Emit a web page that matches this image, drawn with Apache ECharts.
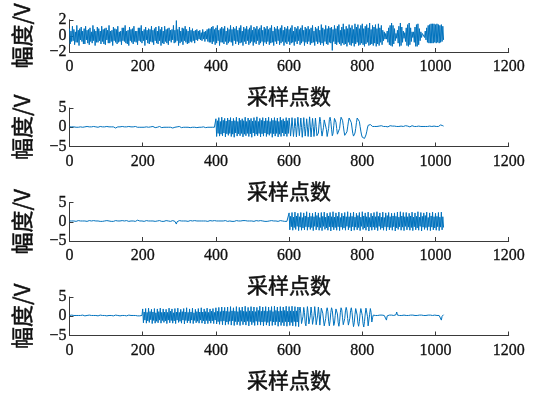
<!DOCTYPE html>
<html>
<head>
<meta charset="utf-8">
<script src="https://cdn.jsdelivr.net/npm/echarts@6/dist/echarts.min.js"></script>
<style>
  html, body { margin: 0; padding: 0; background: #fff; }
  #main { width: 534px; height: 394px; }
</style>
</head>
<body>
<div id="main"></div>
<script>
// one value every 2 samples (0, 2, 4 ... 1022)
const sampleStep = 2;

const signal1 = [
  0.9,-1.0,0.6,-0.7,1.2,-0.6,0.8,-1.1,0.5,-0.8,1.3,-0.8,0.7,-1.2,0.9,-0.5,
  1.1,-0.7,0.6,-1.0,0.9,-1.0,1.2,-0.5,0.7,-0.9,0.8,-1.1,1.0,-0.7,0.5,-0.9,
  1.3,-0.6,0.8,-1.2,0.6,-0.8,1.1,-0.8,0.9,-0.6,0.6,-1.0,1.2,-0.7,0.8,-1.0,
  0.9,-1.1,1.0,-0.5,0.7,-0.9,1.3,-0.9,0.6,-0.7,0.7,-1.2,1.1,-0.6,0.9,-0.8,
  0.8,-1.0,1.2,-0.8,0.5,-0.7,0.6,-1.1,1.0,-0.6,1.0,-0.7,1.3,-0.9,0.6,-1.0,
  0.7,-1.2,1.1,-0.6,0.8,-0.8,0.9,-1.0,1.2,-0.7,0.6,-0.8,0.6,-1.1,1.0,-0.6,
  1.0,-0.7,1.3,-0.9,0.6,-0.6,0.8,-1.2,1.1,-0.5,0.7,-0.9,0.9,-1.0,0.8,-0.7,
  1.2,-0.8,0.7,-1.1,0.9,-0.6,1.1,-0.9,0.6,-1.0,1.2,-0.6,0.8,-1.2,1.1,-0.9,
  0.6,-1.0,1.2,-0.7,0.8,-0.9,0.9,-1.1,1.0,-0.6,0.7,-0.8,0.8,-0.5,1.3,-0.9,
  0.7,-0.8,1.9,-0.6,0.8,-1.2,1.1,-0.9,0.6,-0.7,1.0,-1.1,0.9,-0.6,1.2,-0.8,
  0.8,-1.0,0.6,-0.9,1.1,-0.7,0.7,-0.8,0.9,-0.6,0.6,-0.9,0.7,-0.5,0.8,-0.6,
  0.6,-0.4,0.7,-0.5,0.4,-0.6,0.8,-0.4,0.5,-0.7,0.6,-0.4,0.8,-0.7,0.9,-0.8,
  0.9,-0.8,1.1,-1.0,1.2,-0.7,0.8,-1.1,1.0,-0.9,1.3,-0.6,0.7,-1.2,0.9,-0.8,
  1.1,-0.8,0.9,-1.0,1.2,-0.7,0.6,-1.1,1.0,-0.9,0.8,-0.7,1.3,-0.8,0.8,-1.2,
  1.1,-0.6,0.9,-1.0,1.2,-0.7,0.7,-1.1,1.0,-0.9,1.3,-0.8,0.6,-1.2,1.1,-0.7,
  0.9,-1.0,1.2,-0.6,0.8,-1.1,1.0,-0.9,1.3,-0.7,0.7,-1.2,1.1,-0.8,0.9,-1.0,
  1.2,-0.6,0.8,-1.1,1.0,-0.9,1.3,-0.7,0.7,-1.2,1.1,-0.8,0.9,-1.0,1.2,-0.7,
  0.8,-1.1,1.0,-0.9,1.3,-0.8,0.6,-1.2,1.1,-0.7,0.9,-1.0,1.2,-0.6,0.8,-1.1,
  1.0,-0.9,1.3,-0.7,0.7,-1.2,1.1,-0.8,0.9,-1.0,1.2,-0.7,0.8,-1.1,1.0,-0.9,
  1.3,-0.8,0.6,-1.2,1.1,-0.7,0.9,-1.0,1.2,-0.6,0.8,-1.1,1.0,-0.9,1.3,-0.7,
  0.7,-1.2,1.1,-0.8,0.9,-1.0,1.2,-0.7,0.8,-1.1,1.0,-0.9,1.3,-0.8,0.6,-1.2,
  1.1,-0.7,0.9,-1.0,1.2,-0.8,0.7,-1.1,1.4,-0.9,1.0,-1.2,0.8,-0.7,1.3,-1.0,
  0.9,-1.1,1.2,-0.8,1.0,-0.9,1.1,-1.8,0.8,-0.7,1.3,-1.0,0.9,-1.1,1.2,-0.8,
  1.4,-1.0,0.7,-1.2,1.1,-0.9,1.5,-1.1,0.8,-1.0,1.2,-1.3,0.9,-0.8,1.4,-1.1,
  1.0,-1.2,1.3,-0.9,0.8,-1.3,1.5,-1.0,1.1,-0.8,1.4,-1.2,0.9,-1.1,1.3,-0.9,
  1.5,-1.1,0.9,-1.3,1.2,-1.0,1.4,-0.8,1.0,-1.2,1.6,-1.1,0.8,-1.0,1.3,-1.2,
  1.1,-0.9,1.4,-1.3,0.9,-1.0,1.5,-1.2,1.0,-0.8,1.3,-1.1,0.7,-0.6,0.5,-0.4,
  0.3,-0.4,0.6,-0.8,1.0,-1.1,1.3,-1.2,1.6,-1.3,1.3,-1.0,0.9,-0.6,0.3,-0.3,
  0.7,-0.9,1.2,-1.3,1.6,-1.2,1.1,-0.8,0.6,-0.3,0.4,-0.7,1.0,-1.2,1.4,-1.3,
  1.6,-1.1,1.0,-0.7,0.5,-0.2,0.5,-0.8,1.1,-1.3,1.4,-1.3,1.5,-1.1,0.9,-0.6,
  0.5,-0.2,0.3,0.1,0.5,-0.2,0.6,-0.5,1.0,-0.8,1.3,-0.9,1.4,-0.9,1.5,-0.9,
  1.5,-0.9,1.5,-0.8,1.4,-0.9,1.5,-0.8,1.4,-0.9,1.3,-0.8,1.4,-0.7,1.2,-0.5
];

const signal2 = [
  // 0 - 398
  0.1,0.0,0.2,0.1,0.1,-0.1,0.1,0.2,0.1,0.0,0.1,0.2,0.0,0.1,-0.1,0.1,0.2,0.1,0.0,0.1,
  0.2,0.1,0.0,0.1,0.2,0.1,-0.1,0.1,0.0,0.2,0.1,0.1,0.0,0.2,0.1,0.0,0.1,0.2,0.1,0.0,
  0.1,-0.1,0.2,0.1,0.0,0.1,0.2,0.0,0.1,0.1,0.0,0.2,0.1,-0.1,0.1,0.2,0.0,0.1,0.1,0.0,
  0.1,0.2,0.0,-0.2,-0.5,-0.1,0.1,0.2,0.0,0.1,0.1,-0.1,0.2,0.1,0.0,0.1,0.2,0.0,0.1,0.1,
  0.0,0.2,0.1,-0.1,0.1,0.0,0.2,0.1,0.0,0.1,0.2,-0.1,0.1,0.0,0.1,0.2,0.0,0.1,0.1,0.0,
  0.1,0.2,0.0,0.1,-0.1,0.1,0.2,0.1,0.0,0.1,0.3,0.1,0.0,0.1,0.2,0.0,0.1,-0.1,0.1,0.2,
  0.0,0.1,0.1,0.2,0.0,0.1,-0.1,0.1,0.2,0.0,0.1,0.1,0.0,0.2,0.1,0.0,0.1,0.2,0.0,0.1,
  -0.5,-0.2,0.1,0.1,0.0,0.2,0.4,0.1,0.0,0.1,0.2,0.0,0.1,-0.1,0.1,0.2,0.0,0.1,0.1,0.0,
  0.1,0.2,0.0,0.1,0.1,-0.1,0.2,0.1,0.0,0.1,0.1,0.0,0.2,0.1,-0.1,0.1,0.2,0.0,0.1,0.1,
  0.0,0.1,0.2,0.1,0.0,0.1,-0.1,0.2,0.1,0.0,0.1,0.2,0.0,0.1,0.1,0.0,0.2,0.1,0.0,0.1,
  // 400 - 598
  2.2,-2.4,1.7,-1.6,2.5,-2.3,1.5,-1.8,2.6,-2.2,1.8,-1.5,2.3,-2.5,1.6,-1.7,2.4,-2.1,1.9,-1.6,
  2.5,-2.4,1.6,-1.8,2.3,-2.6,1.7,-1.5,2.6,-2.3,1.5,-1.7,2.4,-2.2,1.8,-1.6,2.2,-2.5,1.7,-1.8,
  2.6,-2.2,1.5,-1.6,2.4,-2.4,1.8,-1.7,2.3,-2.6,1.6,-1.5,2.5,-2.3,1.7,-1.8,2.7,-2.2,1.5,-1.6,
  2.3,-2.5,1.8,-1.7,2.5,-2.3,1.6,-1.5,2.4,-2.4,1.7,-1.8,2.6,-2.1,1.5,-1.6,2.3,-2.6,1.8,-1.7,
  2.5,-2.3,1.7,-1.6,2.4,-2.5,1.5,-1.8,2.6,-2.4,1.8,-1.5,2.2,-2.3,1.6,-1.7,2.5,-2.4,1.7,-1.6,
  // 600 - 678
  2.4,0.3,-2.3,-0.2,2.5,0.1,-2.4,-0.3,2.3,0.2,-2.5,0.0,2.6,0.3,-2.2,-0.1,2.4,0.0,-2.6,-0.2,
  2.5,0.2,-2.3,-0.3,2.2,0.1,-2.4,0.0,2.7,0.3,-2.5,-0.1,2.3,0.2,-2.4,-0.2,2.4,0.2,-2.2,-2.4,
  // 680 - 830
  -1.5,0.8,2.6,1.5,-0.8,-2.3,-1.8,0.0,1.9,2.4,1.5,-0.6,-2.4,-1.9,-0.3,2.0,
  2.6,1.5,-0.5,-2.2,-1.6,0.4,2.3,2.3,1.3,-0.3,-1.8,-2.2,-1.7,-0.3,1.4,2.6,
  2.6,1.8,0.5,-1.0,-2.1,-2.4,-2.1,-1.2,0.1,1.4,2.4,2.6,2.2,1.2,-0.2,-1.6,
  -2.3,-2.3,-1.5,-0.3,1.2,2.4,2.9,2.5,1.5,0.2,-1.0,-2.0,-2.6,-2.8,-2.9,-2.9,
  -2.7,-2.0,-1.2,-0.2,0.5,0.9,1.0,0.7,0.4,0.3,0.2,0.3,
  // 832 - 1022
  0.3,0.2,0.3,0.4,0.2,0.3,0.1,0.3,0.2,0.3,0.4,0.2,0.3,0.2,0.5,0.3,0.2,0.3,0.2,0.1,
  0.3,0.2,0.4,0.3,0.2,0.3,0.2,0.1,0.3,0.2,0.4,0.2,0.3,0.3,0.2,0.4,0.2,0.3,0.1,0.3,
  0.2,0.3,0.2,0.4,0.3,0.2,0.3,0.2,0.3,0.1,0.3,0.2,0.4,0.2,0.3,0.2,0.3,0.5,0.2,0.3,
  0.2,0.3,0.1,0.3,0.2,0.4,0.3,0.2,0.3,0.2,0.2,0.4,0.3,0.2,0.3,0.1,0.3,0.2,0.3,0.2,
  0.4,0.2,0.3,0.2,0.3,0.2,0.1,0.3,0.2,0.4,0.3,0.6,0.3,0.2,0.4,0.3
];

const signal3 = [
  // 0 - 598
  0.2,0.1,0.3,0.2,0.2,0.1,0.2,0.3,0.2,0.1,0.2,0.2,0.3,0.1,0.2,0.2,0.1,0.3,0.2,0.2,
  0.1,0.2,0.3,0.2,0.1,0.2,0.2,0.3,0.1,0.2,0.2,0.1,0.2,0.3,0.2,0.1,0.2,0.2,0.3,0.2,
  0.2,0.3,0.1,0.2,0.2,0.1,0.3,0.2,0.2,0.1,0.2,0.3,0.2,0.1,0.2,0.2,0.3,0.1,0.2,0.2,
  0.1,0.2,0.2,0.3,0.2,0.1,0.2,0.3,0.2,0.2,0.1,0.2,0.3,0.2,0.1,0.2,0.2,0.1,0.3,0.2,
  0.2,0.1,0.2,0.3,0.2,0.2,0.1,0.2,0.3,0.2,0.1,0.2,0.3,0.4,0.7,0.3,0.2,0.1,0.2,0.2,
  0.3,0.2,0.1,0.2,0.2,0.3,0.1,0.2,0.2,0.1,0.3,0.2,0.2,0.1,0.2,0.3,0.2,0.1,0.2,0.2,
  0.2,0.1,0.2,0.3,0.2,0.2,0.1,0.2,0.3,0.1,0.2,0.2,0.3,0.2,0.1,0.2,0.2,0.3,0.1,0.2,
  0.2,0.3,0.1,0.2,0.1,-0.1,-0.6,0.0,0.2,0.2,0.3,0.1,0.2,0.2,0.1,0.3,0.2,0.2,0.1,0.2,
  0.3,0.2,0.1,0.2,0.2,0.3,0.1,0.2,0.2,0.1,0.2,0.3,0.2,0.1,0.2,0.2,0.3,0.2,0.1,0.2,
  0.2,0.1,0.3,0.2,0.2,0.1,0.2,0.3,0.2,0.1,0.2,0.2,0.3,0.1,0.2,0.2,0.1,0.2,0.3,0.2,
  0.1,0.2,0.2,0.3,0.2,0.1,0.2,0.2,0.3,0.1,0.2,0.2,0.1,0.3,0.2,0.2,0.1,0.2,0.3,0.2,
  0.2,0.2,0.1,0.3,0.2,0.1,0.2,0.2,0.3,0.2,0.1,0.2,0.3,0.2,0.2,0.1,0.2,0.3,0.1,0.2,
  0.3,0.1,0.2,0.2,0.1,0.3,0.2,0.2,0.1,0.2,0.3,0.2,0.1,0.2,0.2,0.3,0.1,0.2,0.2,0.1,
  0.2,0.3,0.2,0.1,0.2,0.2,0.3,0.1,0.2,0.2,0.1,0.3,0.2,0.2,0.1,0.2,0.3,0.2,0.1,0.2,
  0.2,0.1,0.2,0.3,0.2,0.1,0.2,0.2,0.3,0.2,0.1,0.2,0.2,0.3,0.1,0.2,0.2,0.1,0.3,0.2,
  // 600 - 1022
  2.3,-2.1,1.4,-1.3,2.4,-2.2,1.2,-1.5,2.5,-2.0,1.5,-1.2,2.2,-2.3,1.3,-1.4,
  2.4,-2.2,1.1,-1.6,2.3,-2.1,1.5,-1.3,2.6,-2.2,1.2,-1.4,2.3,-2.0,1.4,-1.5,
  2.2,-2.3,1.3,-1.2,2.5,-2.1,1.6,-1.4,2.3,-2.2,1.1,-1.5,2.4,-2.3,1.4,-1.2,
  2.5,-2.0,1.2,-1.6,2.2,-2.2,1.5,-1.3,2.4,-2.4,1.3,-1.4,2.6,-2.1,1.2,-1.5,
  2.3,-2.2,1.4,-1.3,2.5,-2.3,1.1,-1.4,2.2,-2.0,1.5,-1.6,2.4,-2.2,1.3,-1.2,
  2.6,-2.1,1.3,-1.5,2.3,-2.4,1.4,-1.3,2.5,-2.2,1.2,-1.4,2.2,-2.1,1.6,-1.5,
  2.4,-2.3,1.2,-1.2,2.6,-2.0,1.5,-1.6,2.3,-2.2,1.3,-1.3,2.5,-2.4,1.1,-1.4,
  2.2,-2.2,1.5,-1.4,2.4,-2.1,1.3,-1.5,2.6,-2.3,1.4,-1.2,2.3,-2.0,1.2,-1.6,
  2.5,-2.2,1.1,-1.3,2.3,-2.3,1.6,-1.4,2.4,-2.1,1.3,-1.5,2.2,-2.2,1.5,-1.3,
  2.3,-2.4,1.4,-1.6,2.5,-2.0,1.2,-1.3,2.6,-2.2,1.5,-1.4,2.4,-2.3,1.3,-1.2,
  2.4,-2.1,1.3,-1.4,2.2,-2.2,1.5,-1.5,2.5,-2.3,1.2,-1.3,2.3,-2.1,1.4,-1.6,
  2.6,-2.2,1.2,-1.2,2.4,-2.4,1.4,-1.4,2.3,-2.0,1.6,-1.5,2.5,-2.2,1.1,-1.3,
  2.3,-2.3,1.5,-1.4,2.5,-2.1,1.3,-1.6,2.2,-2.2,1.4,-1.3,2.4,-2.3,1.2,-1.4,
  2.5,-2.1,1.3,-1.5
];

const signal4 = [
  // 0 - 198
  0.2,0.1,0.2,0.3,0.1,0.2,0.2,0.1,0.3,0.2,0.1,0.2,0.2,0.3,0.1,0.2,0.1,0.2,0.3,0.2,
  0.2,0.1,0.3,0.2,0.2,0.1,0.2,0.3,0.1,0.2,0.2,0.3,0.1,0.2,0.2,0.1,0.2,0.3,0.2,0.1,
  0.2,0.2,0.3,0.1,0.2,0.2,0.1,0.3,0.2,0.1,0.2,0.1,0.2,0.3,0.2,0.2,0.1,0.2,0.3,0.2,
  0.1,0.2,0.2,0.3,0.2,0.1,0.2,0.2,0.3,0.1,0.2,0.3,0.2,0.1,0.2,0.2,0.3,0.2,0.1,0.2,
  0.2,0.3,0.1,0.2,0.2,0.1,0.3,0.2,0.2,0.1,0.2,0.2,0.3,0.1,0.2,0.2,0.1,0.3,0.2,0.2,
  // 200 - 628
  1.9,-1.7,1.1,-1.0,2.0,-1.8,1.0,-1.2,2.1,-1.6,1.2,-0.9,1.8,-1.9,1.1,-1.1,
  2.0,-1.8,0.9,-1.3,1.9,-1.7,1.2,-1.0,2.1,-1.8,1.0,-1.1,1.9,-1.6,1.1,-1.2,
  1.8,-1.9,1.0,-1.0,2.1,-1.7,1.3,-1.1,1.9,-1.8,0.9,-1.2,2.0,-1.9,1.1,-1.0,
  2.1,-1.6,1.0,-1.3,1.8,-1.8,1.2,-1.0,2.0,-2.0,1.1,-1.1,2.2,-1.7,1.0,-1.2,
  1.9,-1.8,1.1,-1.0,2.1,-1.9,0.9,-1.1,1.8,-1.7,1.2,-1.3,2.0,-1.8,1.1,-1.0,
  2.2,-1.8,1.1,-1.2,1.9,-2.0,1.2,-1.1,2.1,-1.9,1.0,-1.2,1.9,-1.8,1.3,-1.2,
  2.0,-1.9,1.0,-1.0,2.2,-2.0,1.3,-1.4,2.3,-2.1,1.2,-1.3,2.4,-2.2,1.4,-1.2,
  2.3,-2.3,1.3,-1.5,2.4,-2.1,1.2,-1.3,2.5,-2.3,1.4,-1.2,2.2,-2.4,1.3,-1.4,
  2.5,-2.2,1.2,-1.4,2.3,-2.4,1.5,-1.3,2.4,-2.2,1.3,-1.5,2.6,-2.3,1.2,-1.3,
  2.3,-2.5,1.4,-1.4,2.5,-2.2,1.3,-1.6,2.4,-2.4,1.2,-1.3,2.3,-2.3,1.5,-1.4,
  2.6,-2.3,1.3,-1.5,2.4,-2.5,1.4,-1.4,2.5,-2.3,1.3,-1.6,2.4,-2.5,1.5,-1.3,
  2.5,-2.4,1.2,-1.5,2.6,-2.3,1.5,-1.4,2.4,-2.6,1.3,-1.5,2.5,-2.4,1.4,-1.6,
  2.4,-2.5,1.5,-1.4,2.6,-2.6,1.3,-1.5,2.5,-2.4,1.4,-1.6,2.6,-2.5,1.3,-1.4,
  2.5,-2.6,1.4,-1.5,2.4,-2.7,1.5,
  // 630 - 686
  2.4,0.8,-1.9,-2.4,0.0,2.3,1.0,-1.8,-2.5,-0.2,2.5,0.9,-2.0,-2.3,0.1,
  2.4,0.7,-2.1,-2.4,0.2,2.5,0.6,-2.2,-2.3,0.3,2.4,0.5,-2.3,-2.1,
  // 688 - 830
  2.1,2.1,0.8,-1.0,-2.5,-2.2,-0.6,1.4,2.2,1.2,-1.3,-2.5,-1.2,1.0,2.2,1.5,
  -0.4,-2.4,-1.8,0.2,1.9,2.1,0.6,-1.6,-2.6,-1.3,0.9,2.2,1.6,-0.4,-2.2,-2.3,
  -0.6,1.4,2.3,1.4,-0.6,-2.3,-2.4,-0.5,1.5,2.2,1.0,-1.2,-2.7,-1.7,0.4,2.0,
  2.1,0.3,-1.8,-2.6,-1.4,0.7,2.0,1.9,0.2,-1.9,-2.8,-1.4,0.6,2.1,2.2,0.0,
  -2.5,-2.0,0.5,2.0,1.0,-1.5,-0.4,0.3,
  // 832 - 1022
  0.3,0.4,0.2,0.3,0.3,0.2,0.3,0.2,0.3,0.3,0.2,0.3,0.2,0.3,0.2,0.3,0.1,-1.0,0.1,0.3,
  0.2,0.3,0.3,0.2,0.3,0.2,0.3,0.2,0.3,0.2,0.4,1.1,0.3,0.2,0.3,0.2,0.3,0.3,0.2,0.3,
  0.2,0.3,0.2,0.3,0.2,0.2,0.3,0.2,0.3,0.2,0.3,0.2,0.2,0.3,0.2,0.3,0.2,0.3,0.2,0.2,
  0.3,0.2,0.3,0.2,0.2,0.3,0.2,0.3,0.2,0.3,0.2,0.2,0.3,0.2,0.3,0.2,0.2,0.3,0.2,0.3,
  0.2,0.3,0.2,0.3,0.2,0.3,0.2,0.2,0.3,0.2,0.3,0.1,-1.0,0.0,0.3,0.4
];

const signals = [signal1, signal2, signal3, signal4];
const yLimits = [[-2, 2, 2], [-5, 5, 5], [-5, 5, 5], [-5, 5, 5]];
const xTicks = [0, 1200, 200];

const tops = [13.5, 108, 202.5, 297];
const plotHeight = 38.5;
const axisColor = '#3a3a3a';
const textColor = '#111111';
const numFont = '"Liberation Serif", "DejaVu Serif", serif';
const cjkFont = '"Noto Sans CJK SC", sans-serif';

const chart = echarts.init(document.getElementById('main'), null, { renderer: 'canvas' });

const nameStyle = size => ({
  fontFamily: cjkFont, fontSize: size, color: textColor,
  textBorderColor: textColor, textBorderWidth: 0.5
});

const option = {
  animation: false,
  backgroundColor: '#ffffff',
  grid: tops.map(t => ({ left: 69.5, right: 25.3, top: t, height: plotHeight })),
  xAxis: tops.map((t, k) => ({
    type: 'value',
    gridIndex: k,
    min: xTicks[0],
    max: xTicks[1],
    interval: xTicks[2],
    name: '采样点数',
    nameLocation: 'middle',
    nameGap: 34,
    nameTextStyle: nameStyle(21),
    axisLine: { show: true, onZero: false, lineStyle: { color: axisColor, width: 1 } },
    axisTick: { show: true, inside: true, length: 4, lineStyle: { color: axisColor } },
    axisLabel: {
      fontFamily: numFont, fontSize: 16, color: textColor, margin: 7,
      textBorderColor: textColor, textBorderWidth: 0.3,
      formatter: v => String(v)
    },
    splitLine: { show: false }
  })),
  yAxis: tops.map((t, k) => ({
    type: 'value',
    gridIndex: k,
    min: yLimits[k][0],
    max: yLimits[k][1],
    interval: yLimits[k][2],
    name: '幅度/V',
    nameLocation: 'middle',
    nameRotate: 90,
    nameGap: 37,
    nameTextStyle: nameStyle(22),
    axisLine: { show: true, onZero: false, lineStyle: { color: axisColor, width: 1 } },
    axisTick: { show: true, inside: true, length: 4, lineStyle: { color: axisColor } },
    axisLabel: {
      fontFamily: numFont, fontSize: 16, color: textColor, margin: 3,
      textBorderColor: textColor, textBorderWidth: 0.3,
      formatter: v => String(v).replace('-', '\u2212')
    },
    splitLine: { show: false }
  })),
  series: signals.map((sig, k) => ({
    type: 'line',
    xAxisIndex: k,
    yAxisIndex: k,
    showSymbol: false,
    symbol: 'none',
    silent: true,
    lineStyle: { color: '#0072BD', width: 1 },
    data: sig.map((v, i) => [i * sampleStep, v])
  }))
};

chart.setOption(option);
</script>
</body>
</html>
